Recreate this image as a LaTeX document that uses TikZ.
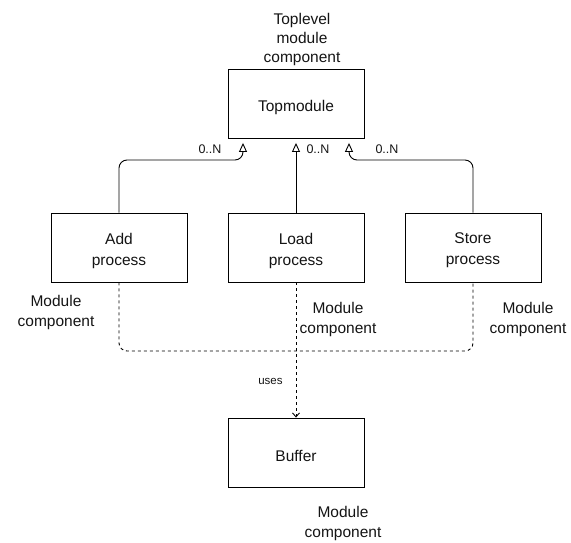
\documentclass[tikz,border=0pt]{standalone}
\usepackage{fontspec}
\setmainfont{Liberation Sans}
\usetikzlibrary{arrows.meta}
\newcommand{\lowertext}[1]{\raisebox{-3pt}[\height][\depth]{#1}}
\begin{document}
\begin{tikzpicture}[x=1pt,y=-1pt]
\definecolor{linecolor}{RGB}{0,0,0}
\definecolor{textcolor}{RGB}{20,20,20}
\definecolor{fillcolor}{RGB}{255,255,255}
\tikzset{
  procbox/.style={draw=linecolor,fill=fillcolor,line width=0.9pt,minimum width=136pt,minimum height=69pt,inner sep=0pt,align=center,text=textcolor,font=\fontsize{15.5}{21}\selectfont},
  notetext/.style={align=center,inner sep=0pt,text=textcolor,font=\fontsize{15.5}{20}\selectfont},
  multtext/.style={inner sep=0pt,text=textcolor,font=\fontsize{12.5}{14}\selectfont},
  inherit/.style={draw=linecolor,line width=0.9pt,-{Triangle[open,length=9pt,width=8pt]},shorten >=4pt},
  useline/.style={draw=linecolor,line width=0.9pt,dash pattern=on 3pt off 3pt},
}
\useasboundingbox (0,0) rectangle (571,543);
% boxes
\node[procbox] (top) at (296,104) {\lowertext{Topmodule}};
\node[procbox] (add) at (119,247.5) {\lowertext{Add}\\\lowertext{process}};
\node[procbox] (load) at (296,247.5) {\lowertext{Load}\\\lowertext{process}};
\node[procbox] (store) at (473,247.5) {\lowertext{Store}\\\lowertext{process}};
\node[procbox] (buffer) at (296,452.5) {\lowertext{Buffer}};
% stereotype notes
\node[notetext,font=\fontsize{15.5}{19}\selectfont] (toplabel) at (302,39) {Toplevel\\module\\component};
\node[notetext] (addlabel) at (56,312) {Module\\component};
\node[notetext] (loadlabel) at (338,319) {Module\\component};
\node[notetext] (storelabel) at (528,319) {Module\\component};
\node[notetext] (bufferlabel) at (343,523) {Module\\component};
% composition
\coordinate (addbend) at (243,160);
\coordinate (storebend) at (349,160);
\draw[inherit,rounded corners=8pt] (add.north) |- (addbend) -- (top.south -| addbend);
\draw[inherit] (load.north) -- (top.south);
\draw[inherit,rounded corners=8pt] (store.north) |- (storebend) -- (top.south -| storebend);
\node[multtext] (addmult) at (210,149) {0..N};
\node[multtext] (loadmult) at (318,149) {0..N};
\node[multtext] (storemult) at (387,149) {0..N};
% uses
\coordinate (busend) at (473,351);
\draw[useline,rounded corners=8pt] (add.south) |- (busend) -- (store.south);
\draw[useline,-{Straight Barb[length=4pt,width=7pt]}] (load.south) -- (buffer.north)
  node[multtext,pos=0.73,left=13pt,font=\fontsize{11.5}{13}\selectfont] (useslabel) {uses};
\end{tikzpicture}
\end{document}
